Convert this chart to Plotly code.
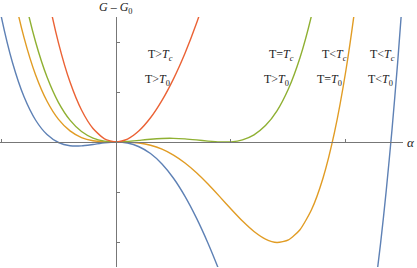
import plotly.graph_objects as go

# valores (alpha, G - G0)
alpha = [-1.1, -1.0, -0.9, -0.8, -0.7, -0.6, -0.5, -0.4, -0.3, -0.2, -0.1, 0.0,
         0.1, 0.2, 0.3, 0.4, 0.5, 0.6, 0.7, 0.8, 0.9, 1.0, 1.1, 1.2, 1.3, 1.4,
         1.5, 1.6, 1.7, 1.8, 1.9, 2.0, 2.1, 2.2, 2.3, 2.35, 2.4, 2.45, 2.5]

# T<Tc, T<T0
g_azul = [3.79, 2.53, 1.584, 0.903, 0.440, 0.149, -0.010, -0.074, -0.077, -0.049, -0.016, 0.0,
          -0.021, -0.095, -0.231, -0.440, -0.725, -1.087, -1.523, -2.025, -2.587, -3.19, -3.82, -4.45, -5.07, -5.64,
          -6.12, -6.49, -6.70, -6.72, -6.49, -5.96, -5.08, -3.80, -2.049, -0.977, 0.237, 1.602, 3.125]

alpha_nar = [-1.0, -0.9, -0.8, -0.7, -0.6, -0.5, -0.4, -0.3, -0.2, -0.1, 0.0,
             0.1, 0.2, 0.3, 0.4, 0.5, 0.6, 0.7, 0.8, 0.9, 1.0, 1.1, 1.2, 1.3, 1.4,
             1.5, 1.6, 1.7, 1.8, 1.9, 2.0, 2.1, 2.2]
# T<Tc, T=T0
g_naranja = [4.38, 3.082, 2.087, 1.346, 0.815, 0.4525, 0.222, 0.0895, 0.0253, 0.003, 0.0,
             -0.0027, -0.0205, -0.0649, -0.144, -0.2625, -0.421, -0.616, -0.841, -1.088, -1.34, -1.582, -1.790, -1.942, -2.009,
             -1.958, -1.754, -1.356, -0.724, 0.192, 1.44, 3.075, 5.154]

alpha_ver = [-1.0, -0.9, -0.8, -0.7, -0.6, -0.5, -0.4, -0.3, -0.2, -0.1, 0.0,
             0.1, 0.2, 0.3, 0.4, 0.5, 0.6, 0.7, 0.8, 0.9, 1.0, 1.1, 1.2, 1.3, 1.4,
             1.5, 1.6, 1.7, 1.8]
# T=Tc, T>T0
g_verde = [5.723, 4.170, 2.947, 2.004, 1.298, 0.788, 0.437, 0.210, 0.079, 0.0164, 0.0,
           0.0107, 0.0332, 0.056, 0.0709, 0.0733, 0.0625, 0.042, 0.0185, 0.001, 0.003, 0.043, 0.144, 0.328, 0.623,
           1.064, 1.684, 2.525, 3.627]

alpha_roj = [-0.7, -0.6, -0.5, -0.4, -0.3, -0.2, -0.1, 0.0, 0.1, 0.2, 0.3, 0.4, 0.5, 0.6, 0.7, 0.8]
# T>Tc, T>T0
g_rojo = [4.335, 3.011, 1.978, 1.198, 0.639, 0.269, 0.064, 0.0, 0.058, 0.224, 0.484, 0.832, 1.263, 1.775, 2.373, 3.063]

ticks_x = [-1, 1, 2]
ticks_y = [-2, -1, 1, 2]

etiquetas = ["T&gt;<i>T</i><sub><i>c</i></sub>", "T&gt;<i>T</i><sub>0</sub>",
             "T=<i>T</i><sub><i>c</i></sub>", "T&gt;<i>T</i><sub>0</sub>",
             "T&lt;<i>T</i><sub><i>c</i></sub>", "T=<i>T</i><sub>0</sub>",
             "T&lt;<i>T</i><sub><i>c</i></sub>", "T&lt;<i>T</i><sub>0</sub>"]
etiq_x = [0.383, 0.357, 1.435, 1.40, 1.896, 1.861, 2.322, 2.296]
etiq_y = [1.75, 1.25, 1.75, 1.25, 1.75, 1.25, 1.75, 1.25]

fuente = "Liberation Serif"

fig = go.Figure()

curvas = [(alpha, g_azul, '#5E81B5'),
          (alpha_nar, g_naranja, '#E19C24'),
          (alpha_ver, g_verde, '#8FB032'),
          (alpha_roj, g_rojo, '#EB6235')]

for xs, ys, color in curvas:
    fig.add_trace(go.Scatter(
        x=xs, y=ys,
        mode='lines',
        line=dict(color=color, width=1.4, shape='spline', smoothing=0.6),
        showlegend=False,
        hoverinfo='skip'
    ))

for txt, ex, ey in zip(etiquetas, etiq_x, etiq_y):
    fig.add_annotation(x=ex, y=ey, text=txt, showarrow=False,
                       font=dict(family=fuente, size=12, color='#222'))

# titulos de los ejes
fig.add_annotation(x=0, y=1.0, xref='x', yref='paper', yanchor='bottom', yshift=-1,
                   text="<i>G</i> – <i>G</i><sub>0</sub>",
                   showarrow=False, font=dict(family=fuente, size=12, color='#222'))
fig.add_annotation(x=1.02, y=0, xref='paper', yref='y', xanchor='center',
                   text="<i>α</i>",
                   showarrow=False, font=dict(family=fuente, size=13, color='#222'))

fig.update_layout(
    width=417, height=268,
    margin=dict(l=0, r=14, t=17, b=1),
    paper_bgcolor='white',
    plot_bgcolor='white',
    xaxis=dict(range=[-1.009, 2.496], showgrid=False, zeroline=False,
               showline=True, linecolor='#777', linewidth=1,
               anchor='free', position=0.5,
               tickvals=ticks_x, ticks='inside', ticklen=3, tickcolor='#777',
               showticklabels=False),
    yaxis=dict(range=[-2.5, 2.5], showgrid=False, zeroline=False,
               showline=True, linecolor='#777', linewidth=1,
               anchor='free', position=0.288,
               tickvals=ticks_y, ticks='inside', ticklen=3, tickcolor='#777',
               showticklabels=False)
)

# quitar el margen del body para que la figura quede en (0,0)
fig.write_html("out.html", config={'displayModeBar': False},
               post_script="document.body.style.margin='0';")
